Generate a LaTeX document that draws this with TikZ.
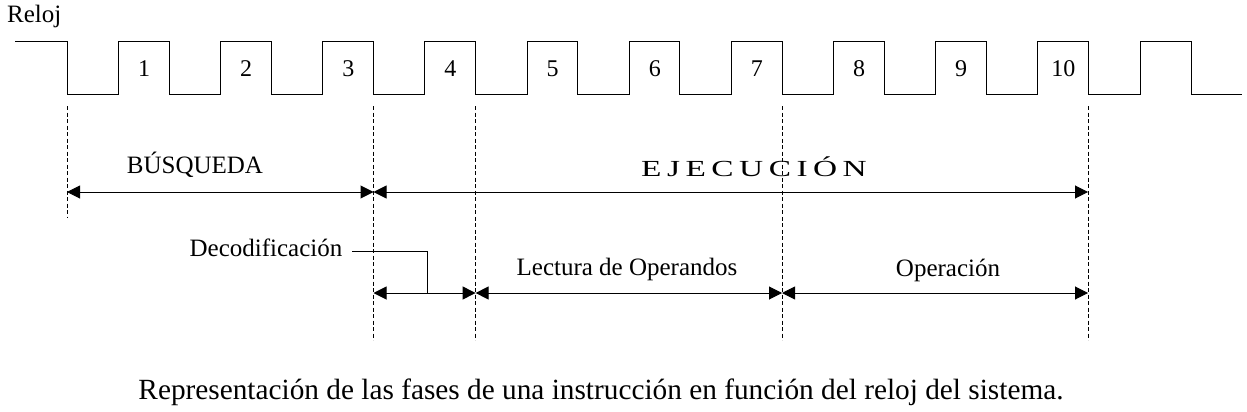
\documentclass[tikz,border=0pt]{standalone}
\usepackage{fontspec}
\setmainfont{Liberation Serif}
\usetikzlibrary{arrows.meta}
\newcommand{\lsp}{\kern3.8pt}
\begin{document}
\begin{tikzpicture}[x=1pt,y=-1pt,
  wave/.style={line width=1pt, line join=miter},
  guide/.style={line width=0.8pt, dash pattern=on 4pt off 2.5pt},
  dim/.style={line width=1pt, {Triangle[length=13pt,width=13pt]}-{Triangle[length=13pt,width=13pt]}},
  lead/.style={line width=0.9pt},
  lbl/.style={font=\fontsize{25}{30}\selectfont, anchor=base, inner sep=0pt},
  num/.style={font=\fontsize{24}{28}\selectfont, anchor=base, inner sep=0pt},
  captxt/.style={font=\fontsize{29.3}{34}\selectfont, anchor=base, inner sep=0pt}]
\useasboundingbox (0,0) rectangle (1247,412);
\fill[white] (0,0) rectangle (1247,412);

% clock
\node[lbl, anchor=base west] (reloj) at (7,23) {Reloj};
\draw[wave] (15,42) \foreach \k in {0,...,10}{
   -- ({67+\k*102.15},42) -- ({67+\k*102.15},94)
   -- ({118.5+\k*102.15},94) -- ({118.5+\k*102.15},42)}
   -- (1191.5,42) -- (1191.5,94) -- (1242,94);
\foreach \k in {1,...,10}
  \node[num] (n\k) at ({144+(\k-1)*102.15},77) {\k};

% guide coordinates
\coordinate (g0t) at (67,106);   \coordinate (g0b) at (67,218);
\coordinate (g3t) at (373.5,106);\coordinate (g3b) at (373.5,340);
\coordinate (g4t) at (475.6,106);\coordinate (g4b) at (475.6,340);
\coordinate (g7t) at (782,106);  \coordinate (g7b) at (782,340);
\coordinate (g10t) at (1088,106);\coordinate (g10b) at (1088,340);
\foreach \g in {0,3,4,7,10} \draw[guide] (g\g t) -- (g\g b);

% top dimension arrows
\coordinate (a0) at (67,192);
\coordinate (a3) at (373.5,192);
\coordinate (a10) at (1088,192);
\draw[dim] (a0) -- (a3);
\draw[dim] (a3) -- (a10);
\node[lbl] (busq) at (195,173) {BÚSQUEDA};
\node[lbl, font=\fontsize{23}{28}\selectfont, xscale=1.45] (ejec) at (754,176)
  {E\lsp J\lsp E\lsp C\lsp U\lsp C\lsp I\lsp Ó\lsp N};

% lower dimension arrows
\coordinate (b3) at (373.5,293);
\coordinate (b4) at (475.6,293);
\coordinate (b7) at (782,293);
\coordinate (b10) at (1088,293);
\draw[dim] (b3) -- (b4);
\draw[dim] (b4) -- (b7);
\draw[dim] (b7) -- (b10);
\coordinate (bd) at (427,293);
\node[lbl] (deco) at (266,256) {Decodificación};
\coordinate (decol) at (352,251);
\draw[lead] (decol) -| (bd);
\node[lbl] (lect) at (627,275) {Lectura de Operandos};
\node[lbl] (oper) at (948,276) {Operación};

% caption
\node[captxt] (caption) at (601,399) {Representación de las fases de una instrucción en función del reloj del sistema.};
\end{tikzpicture}
\end{document}
